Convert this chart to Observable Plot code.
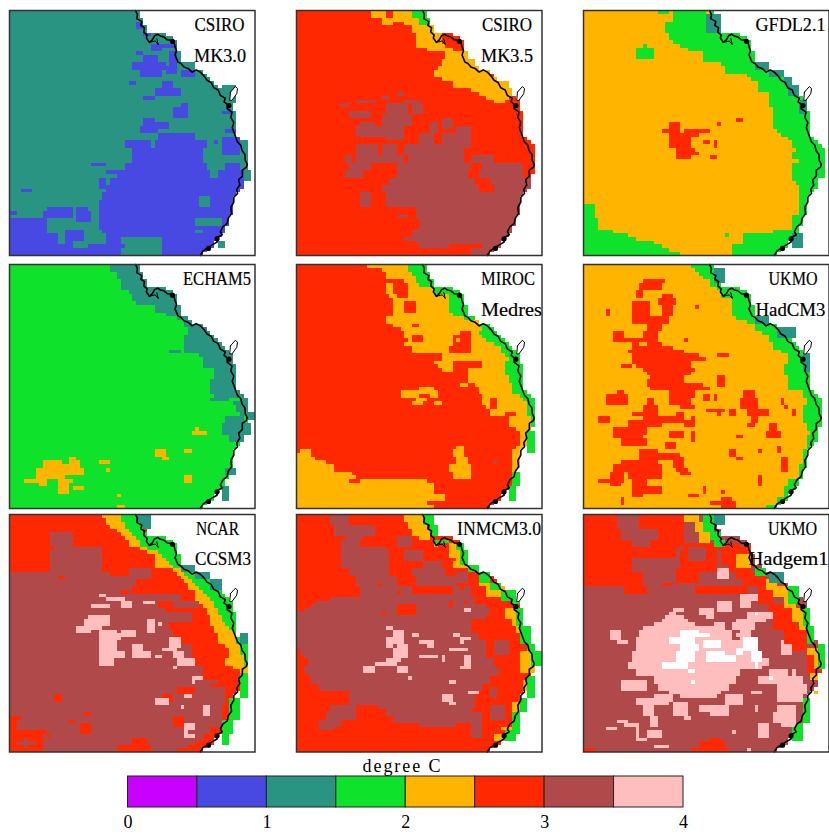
<!DOCTYPE html>
<html><head><meta charset="utf-8">
<script src="https://cdn.jsdelivr.net/npm/d3@7"></script>
<script src="https://cdn.jsdelivr.net/npm/@observablehq/plot@0.6"></script>
<style>
html,body{margin:0;padding:0;background:#fff;overflow:hidden}
#wrap{position:relative;width:829px;height:834px}
#wrap svg{position:absolute;overflow:visible;background:transparent}
</style></head><body><div id="wrap"></div>
<script>
// class codes -> temperature change (degree C), band mid-points
const classCodes = "pbtgormkw";
const classValues = [0.25,0.75,1.25,1.75,2.25,2.75,3.25,3.75,4.25];
const legendLow  = [0,0.5,1,1.5,2,2.5,3,3.5];
const legendHigh = [0.5,1,1.5,2,2.5,3,3.5,4];
const thresholds = [0.5,1,1.5,2,2.5,3,3.5,4];
const palette = ["#c800ff","#4848e2","#2a9482","#0ee22a","#ffb400","#ff2800","#b04a4a","#ffbebe","#ffffff"];
const legendTicks = [0,1,2,3,4];
const N = 66;
// last land column (exclusive) on each grid row
const landEnd = [35,35,36,36,37,37,42,44,45,45,45,46,46,46,48,49,52,53,54,55,56,57,58,59,60,60,60,61,61,61,61,61,61,61,62,63,64,64,64,64,64,64,64,64,63,63,63,63,62,61,60,60,60,60,60,59,59,59,58,58,57,56,55,55,53,52];
// coastline and Fraser Island in grid units
const coastCol = [33.9,34.4,34.2,35.6,35.3,36.3,36.1,37,36.8,37.6,38.4,39,39.8,40.6,41.5,42.4,43.5,44.2,44.5,44.9,44.5,45.3,46.1,46.9,48,49.1,50.2,51.3,52.3,53.1,54.2,54.9,56.1,56.7,58,57.7,58.7,58.5,59.8,59.5,60.3,59.9,60.5,61,61.3,62.2,62.5,63.3,63.4,63.9,63.7,62.6,62.6,61.6,61.9,61.1,61.3,60.3,60.3,59.5,59.7,58.8,58.5,57.4,56.7,57.2,55.8,55.8,54.4,53.1,52,51.3];
const coastRow = [0,1.1,2.2,3,4,4.6,5.8,6.6,7.4,8.6,7.9,6.8,6.4,6.9,7.1,7.9,8,8.5,9.8,10.8,12,13.9,14.3,15.2,15.6,16.6,16,16.6,17.6,18.8,19.4,20.8,21.4,22.9,23.6,24.6,25.4,26.4,27.4,28.8,30.2,31.6,33.2,34.6,35.4,36.3,37.7,38.8,40.4,41.4,42.2,43,44.6,45.6,47,48.2,49.3,50.3,51.6,53,54.7,56,57.4,58.2,59.6,60.4,61.2,62.4,63.2,64.1,64.8,66];
const islandCol = [59.4,60.7,61.3,61.1,59.8,59.2,59.4];
const islandRow = [22,20.5,21,22.4,24.2,24.2,22];
const inletCol = [37.6,39.2,40,39.6];
const inletRow = [8.6,8.2,9.2,7.6];
const blobCol = [43.8,55.8,53.5,59.0];
const blobRow = [8.3,61.5,64.1,25.6];

const line1 = ["CSIRO","CSIRO","GFDL2.1","ECHAM5","MIROC","UKMO","NCAR","INMCM3.0","UKMO"];
const line2 = ["MK3.0","MK3.5","","","Medres","HadCM3","CCSM3","","Hadgem1"];
const line1Center = [210,210.5,207,207.5,211.5,209.5,208,202.5,209];
const line2Center = [210.5,210.5,0,0,215,207,213.5,0,205];
const line1Width = [50,50,70,68,54,49,43,84,49];
const line2Width = [52,52,0,0,61,70,56,0,80];

// Each field: base class, then painted patches "class rows:cols" (a bare start column runs to the coast)
const csiroMk30 = "t0-65:0 b3-4:34-35 b6:36-37 b9-10:38-40 b9:41-44 b11-14:43-44 b11:34-35 b12-13:36-39 b14-15:33-41 b16-17:35-40 b14:41-41 b15-16:42-44 b16-17:46-49 b19:32-33 b19-20:41-43 b21-22:39-45 b23:36-38 b25:46-47 b26-28:44-47 b29-30:36-38 b30-31:39-42 b31-32:35-39 b33-34:40-49 b35-36:31-37 b35-36:39-52 b37-38:33-51 b34-38:57-61 b39-40:33-51 b41-42:31-52 b41-42:58-63 b43-44:29-53 b43-44:56-63 b45-46:27 b47-48:26 b49-50:25 b51-53:24 b54-58:24 b59:25 b60-62:26 b63-65:21 t61-65:30-40 b63:28-30 t50-52:51-53 t56-57:50-56 t59:50-51 b53:10-16 b53:18-20 b54:0-1 b54-55:9-16 b54-56:18-21 b56-62:0-9 b60-62:10-12 b63:0-16 b64-65:0-21 b59-62:15-16 b59-61:17-19 b48:3-5 b41:22-25 b43:26-29 b45-47:24-25 b27:57-59 b32:58-60 b35:55-55 t20-24:57-60 t35-42:62-63 t43-45:63-64 t14-15:46-49 t62-63:56-57";
const csiroMk35 = "r0-65:0 o0-1:20-23 o0-1:26-30 g0-1:31-34 o2:23-25 o2:26-32 g2:33-35 o3:23-25 o3:29-34 g3:33-35 o4-5:31-36 o6-8:32-38 o9:32-39 o10:35-41 o11-12:40-45 o13-14:39-47 o15:38-48 o16-17:37-51 o18:39-53 o19-20:42-56 o21:47-57 o22:49-57 o23:51-56 o24:53-55 m22:27-28 m23:23-24 m24:16-20 m24:29-32 m25:12-13 m25-27:24-29 m25-27:31-33 m27-28:14-19 m28-30:23-30 m30:17-20 m31-33:16-26 m31-34:24-28 m30-32:36-37 m29-31:39-41 m33-35:33-36 m33-35:39-43 m31-36:43-46 m36-38:16-21 m36-38:23-26 m36-38:29-44 m39-40:13-14 m39-40:16-28 m39-40:30-44 m39-40:47-52 m41-42:14-19 m41-42:27-46 m41-42:50-60 m43-44:13-17 m43-44:27-45 m43-44:49-60 m45-46:25-47 m45-46:52 m47-48:23-48 m47-48:53 m49-50:24 m49-52:17-19 m51-52:24 m53-55:32 m55:27-29 m56-58:33 m59-60:31 m61:29-30 m61:31 m62:32 m63:33-40 m63:50 m64-65:47 r64:36-40";
const gfdl21 = "o0-65:0 g0:20-22 g0:24 g1-2:24 g3-5:22 g6-7:23 g8:24 g9:26 g10:28 g11-13:32 g14:37 g15-16:38 g17:44 g18:45 g19-21:47 g22-25:50 g26-31:51 g32:52 g33:53 g34:55 g35-36:56 g37:57 g38-39:56 g40:58 g41-45:56 g46:57 g47-54:58 g55-58:56 g59:51 g60-62:43 g63-65:40 g52-55:0-2 g56-58:0-3 g59:0-7 g60:0-11 g61:0-13 g62:0-18 g63:0-20 g64:0-22 g65:0-25 g10-12:14-18 g9:16-16 g60:38-38 t1-5:33-36 t24-27:58-59 t14-15:46-49 t16-17:50-53 t18-19:54-55 t20-22:55-57 t60-63:56-58 o0:33-33 g37-44:63-64 r30-31:23-25 r32:21-25 r32:27-33 r33:23-30 r34-36:23-28 r37:25-29 r38:25-30 r39:25-28 r29:41-42 r30:36-36 r35:32-33 r35-36:35-35 r39:34-35";
const echam5 = "g0-65:0 t0-1:27 t2-3:29 t4-6:30 t7:32 t8-9:33 t10:34 t11-12:39 t13:42 t14:45 t15-16:47 t17-18:48 t19-23:47 t24:51 t25-27:52 t28-30:55 t31-34:54 t35:55 t36:54-58 t37:60 t38-39:61 t40:62 t41-42:58-62 t43-45:57-64 t46-47:59 t23:43-45 t55-56:58-60 t60-63:57-58 t36-40:62-63 t40-41:64-65 o52:16-17 o53:9-13 o53:16-18 o54:9-18 o55-56:7-19 o57:7-14 o58:4-9 o58:13-16 o59:8-9 o59:13-15 o60:13-15 o60:17-19 o61:13-15 o53:24-26 o55:26-26 o62:29-29 o65:29-30 o50-51:39-41 o52:41-42 o50:47-48 o57-58:47-48 o45:49-52 o44:50-50";
const mirocMedres = "r0-65:0 o0:19 o1:23 o2-3:24 o4:24 r4:24-28 o5-7:24 r5-8:26-29 o8:25 r8:27-29 o9-13:26 r10-12:29-31 o14-15:24 o16:26 o17:28 o18-19:29 o20:30 o21:29 o22-23:31 o24-25:39 o26:37 o27:38 r26-27:42-49 o28:39-41 r28:44-46 o28-31:46 o32:48 o33-34:49 o35:50 o36-37:50 o38:51 o39:52 o40:52 r40:56-58 o40:59 o41-44:57 o45-46:60 o47-48:60 o49:59 o50-54:58 o55-57:58 o32:44-45 r36-38:52-53 r44-46:56-58 g0-1:30 g2:31 g3-4:32 g5:33 g6-7:37 g8-12:41 g13:42 g14:45 g15-16:49 g17:50 g18:49 g19:50 g20:51 g21:53 g22-23:55 g24:56 g25:57 g26-29:56 g30-31:57 g32-34:58 g35:60 g36:61 g37-40:62 g41-44:63 g45-50:62-63 g56-59:58-59 g60-63:57-58 r18:44-46 r19-21:42-46 o20:43-43 r22-23:41-46 r16:31-32 r19-20:31-33 o33:33-36 o34-35:28-37 o36:32-34 o37:31-33 r35:33-35 o37:37-38 o49:43-44 o50-51:42-44 o52-53:43-45 o54-55:41-46 o56-57:42-46 o50:1-3 o51:0-3 o52:0-4 o53:0-7 o54-55:0-9 o56:0-14 o57:0-15 o58:0-34 r58:14-16 o59-60:0-36 o61:0-37 o62-63:0-39 o64:0-34 o65:0-36 r60-61:37-39 m53:53-53";
const ukmoHadcm3 = "o0-65:0 g0:29 g1:30 g2:31 g3:32 g4-5:34 g6:36 g7-8:37 g9-13:40 g14:41 g15:44 g16-17:46 g18:48 g19-20:50 g21-22:51 g23:53 g24-26:55 g27-29:54 g30-33:55 g34-35:59 g36-37:60 g38-42:59 g43-44:60 g45:61 g46-49:60 g50-53:59 g54-57:58 g58-59:55 g60-62:54 g63-64:52 g65:49 r4:16-21 r5-6:15-20 r7-8:14-15 r8:21-23 r9-10:20-24 r11-13:21-23 r10-13:13-17 r14-15:13-22 r16-17:17-20 r18-19:16-19 r20:11-19 r21:13-14 r21:17-20 r18-20:8-10 r22:13-23 r23:12-26 r24:13-30 r25:13-32 r26:13-28 r27:10-12 r27:14-28 r28:16-29 r29:17-28 r30:18-26 r31-32:17-26 r32-33:27-31 r33:18-26 r33:30-33 r34-35:23-29 r36-37:23-28 r38:26-29 r30-32:36-37 r24:36-38 r20:27-27 r11:30-30 r12-13:6-6 r34-35:9-10 r35-37:6-11 r41-42:4-6 r36-37:17-18 r38-41:16-19 r40:13-15 r42-43:12-20 r40:25-26 r41-42:20-26 r44-45:8-16 r46:8-15 r47-48:10-16 r45-46:23-26 r48-49:22-24 r42-43:27-29 r41:29-29 r45-47:29-29 r50:15-19 r51-52:15-25 r53:10-19 r52-54:24-26 r55:25-27 r56:26-28 r54-55:8-20 r56-57:7-10 r56-57:12-20 r58:4-10 r58:13-16 r59:7-9 r59:13-16 r60:13-15 r60-61:16-20 r61-62:13-15 r35-36:32-33 r35-36:35-35 r39:33-37 r40:36-36 r39-40:39-40 r34-35:43-45 r36-38:42-46 r39-40:44-49 r41-42:45-46 r43:44-45 r43-44:50-51 r45-46:49-52 r36-37:53-53 r38:54-54 r39-40:56-56 r46:41-42 r50:47-47 r50-51:39-40 r52:41-42 r49-50:52-52 r52-55:53-54 r57-59:47-47 r60-61:32-32 r62:28-30 r61:37-37 r63-64:10-10 r64:34-40 r63-65:37-39 r65:37-40 t24-28:59-60 t1-4:35-37 t14-15:46-49 t17-19:52-56";
const ncarCcsm3 = "m0-65:0 r0-4:0 r5-8:0-10 r5-8:17 r9:0-11 r9:25 r10-15:0-10 r10-15:25 r16:27 r17:30 r18-19:34 r20-21:33 r22-23:46 r24-25:40 m24-25:44-50 r26:42 r27-29:49 r30-31:43 r32-33:44 r34-35:46 r36-41:49 r42-45:52 r46:56 r47:54 r48-52:58 r48-49:45-49 r50-51:41-43 r53-58:57 r59-60:54 r61-62:52 r63:50 r64:48 r65:45 m15-17:32-37 m17-19:29-33 r21:30-31 r17:13-14 r56:0-2 r57-60:0-1 r60:0-9 r61-65:0-8 m63:2-6 m62-64:4-4 r61:10-10 r62-63:33-36 r64-65:29-37 r57:16-17 r55:20-21 r58-60:19-21 r50-51:12-13 r56-58:44-46 o0:25-29 o1:26-29 o2:26-30 o3:27-30 o4:29-31 o5:30-32 o6:31-33 o7-8:32-34 o9:35-36 o10:37-39 o11:39-40 o12:39-41 o13:39-42 o14:39-43 o15:44-45 o16:45-46 o17:46-47 o18:47-48 o19:48-49 o20:48-50 o21:50-51 o22:50-52 o23:50-53 o24:51-54 o25:52-54 o26-27:53-55 o28-29:54-56 o30:54-57 o31:55-58 o32:55-59 o33-35:56-60 o36:58-61 o37-38:59-61 o39:59-62 o40-41:58-62 o42:60-63 o43:62-63 g0-1:30-33 g2:31-34 g3:31-35 g4:32-35 g5:33 g6:34 g7-8:35 g9:37 g10:40 g11:41 g12:42 g13:43 g14:44 g15:46 g16:47 g17:48 g18:49 g19:50 g20:51 g21:52 g22:53 g23:54 g24-25:55 g26-27:56 g28-29:57 g30:58 g31:59 g32:60 g33-35:61 g36-38:62 g39-41:63 g44-50:62-63 g51-56:59-61 g57-60:57-59 g60-63:57-58 t0-1:34-37 t2:35-37 t3:36-37 t14-15:46-49 t16-17:50-53 t18-20:54-56 t33-35:62-63 k28:21-26 k29-30:20-26 m31:20-22 k31:18-24 k32:18-21 k32:24-28 k33-34:24-29 k35-37:24-28 k38-39:24-30 k40-41:24-27 k22:24-25 k25:22-26 k23:26-30 k24-25:30-32 k24:36-38 k32-33:30-33 k29-32:37-38 k30:40-40 k36-37:33-35 k38-39:33-37 k39:39-40 k34-36:43-45 k37:41-44 k38-39:44-46 k40-41:45-49 k42:44-44 k45:49-51 k46:49-49 k51-52:39-42 k50:47-48 k53:46-46 k53-55:52-53 k58-61:47-49 m60:48-49";
const inmcm30 = "r0-65:0 m0-2:9-13 m3-5:10-20 m6:13-17 m7-8:12-16 m9:12-23 m10-14:12-24 m15-16:14-24 m17-19:16-26 m17-19:32-42 m20-21:17-30 m20-21:42-46 m22:17-46 m23:9-47 m24:5-47 m25:4-50 m26:2-51 m27:0-51 m28:0-50 m29-32:0-46 m33-34:0-48 m35-36:0-50 m37-38:1-50 m39:2-50 m40-41:3-52 m42:2-53 m43:2-54 m44:3-53 m45-46:4-51 m47-48:6-49 m49-52:14-47 m53:22-47 m54-55:24-46 m56-57:26-46 m58:33-42 m53-54:9-15 m55-56:8-15 m57-58:6-11 m59:6-9 m53-56:52-55 m35-38:53-56 m55-61:47-49 m48-50:52-53 m6-8:27-30 m10-12:29-33 m15-16:31-39 m13-14:34-38 m16-18:43-45 r27:23-23 r25-27:27-31 r24-25:41-41 r24:45-45 r21:27-27 r20:14-14 r19:22-22 r19-20:44-44 r20-21:35-41 o0-1:29-33 o2-3:30-34 o4-5:31-35 o6:33-35 o8:37-37 o8:41-42 o9-11:41-43 o12-14:42-45 r12:42-42 o18-19:49-51 o20-22:51-55 o26-28:56-58 o29-30:58-59 o31-32:59-60 o38-40:60-62 o41-43:60-63 o46-48:61-62 o52-55:58-59 o59:55-57 o61-62:53-55 g0-2:34-36 g3-5:36-37 g7:37-40 g8-9:43-44 g10-13:44-45 g14-15:46-48 g16-18:49-51 g19-20:52-54 g21-23:55-58 g24:58-59 g26-30:59-60 g31-35:60-62 g36-37:62-63 g38-41:63-65 g45-50:62-63 g51-54:60-61 g55-60:58-59 g60-62:56-58 k31:24-25 k32-33:26-28 k34-35:24-28 k36:24-25 k36:27-29 k37-39:26-29 k40:24-27 k41:21-26 k42-43:18-20 k42-43:27-29 k45:30-30 k33:31-32 k35:33-34 k35-36:35-36 k39:33-37 k39-40:39-39 k26:45-46 k33:42-43 k34:44-46 k35:44-44 k37:41-44 k37:45-45 k39-42:45-46 k42:44-44 k46:41-42 k50-51:39-41 k52:41-42 k49:46-48";
const ukmoHadgem1 = "m0-65:0 r0-3:0-8 r0-3:15-26 r4-6:0-9 r4-6:20-26 r7-9:0-12 r7-8:18-26 r9-11:12-24 r10-15:0-12 r16-19:0-15 r20-21:11-16 m4-7:27-30 r8-9:27-37 r10-15:26-35 m9-12:28-32 r15-18:25-30 r19:21-23 r20-21:30-43 r8-13:37-41 r9-15:39-44 r16-17:41-46 r17-19:43-48 r20-24:47-50 r25-26:50-55 r27-29:51-56 r30-31:51-56 r31-37:54-59 r38-40:60-62 r41-43:60-63 o0-1:27-30 o2:30-31 o3-4:30-32 o5-7:31-33 o11-14:41-44 o18-20:49-51 o20-22:51-54 o23-25:54-56 o26-29:56-59 o30-31:58-59 o37-38:60-62 o39-42:62-63 o44-45:61-62 o49:62-62 g0-4:32-34 g5-6:34-36 g7-8:35-37 g15-16:46-48 g20-24:55-57 g26-30:59-60 g31-35:60-61 g36-42:63-64 g51-57:59-60 g58-62:56-58 t0-2:35-37 t16-18:50-53 k27:23-24 k28:22-26 k29:21-27 k30:19-29 k30:36-37 k31:16-37 k32-33:15-44 k34:14-45 k35-37:14-46 k38-40:13-47 k41-42:12-47 k43-44:14-41 k45-46:19-40 k47-48:20-38 k49:23-36 k50:26-35 m32-34:40-41 k32-34:7-9 k35:9-11 k46-48:10-16 k50-51:19-23 k51-52:14-22 k53-55:16-18 k56-58:18-19 k52-55:24-27 k56:27-28 k53-54:31-38 k55:34-38 k50-52:38-42 k49:45-47 k53-54:46-46 k58-61:47-49 k53-54:52-56 k55-57:51-56 k58:53-56 k43-44:50-54 k43-44:56-56 k45-46:47-52 k45-46:53-58 k47-49:52-59 k50-51:52-58 k36-38:53-55 k35:53-53 k40-41:46-49 k15-17:36-38 k22-23:42-46 k24-25:42-44 k24-26:36-39 k26-27:31-34 k28:33-34 k26:24-26 k27-28:44-50 k29:41-48 k30-31:40-45 k30-32:35-37 k33:41-44 k59:6-8 k57:9-11 k58:11-14 k59-61:14-14 k62:14-16 k60-61:17-20 k64:19-22 k60:40-40 k65:44-44 r62:34-36 r63-64:31-37 r65:29-38 r65:0-2 w32-33:26-30 w34-35:23-29 w36-37:26-30 w38-40:25-29 w41-42:21-27 w43:28-29 w33:30-33 w35-36:32-36 w38-40:33-37 w39-40:38-40 w37-38:41-42 w34-37:43-46 w38-40:45-47 w40-42:46-46 w46:29-29 w45:50-50 w27:46-46";

const fields = [csiroMk30,csiroMk35,gfdl21,echam5,mirocMedres,ukmoHadcm3,ncarCcsm3,inmcm30,ukmoHadgem1];
const panelLeft = [8.5,295.5,583];
const panelTop = [10,263.5,514];
const panelHeight = [245,244,237.5];
const panelWidth = 245.5;

function decode(spec){
  const g = new Array(N*N).fill(NaN);
  for (const p of spec.split(" ")){
    const m = /^([a-z])(\d+)(?:-(\d+))?:(\d+)(?:-(\d+))?$/.exec(p);
    const v = classValues[classCodes.indexOf(m[1])];
    const r0=+m[2], r1=m[3]===undefined?r0:+m[3], c0=+m[4];
    for (let r=r0;r<=r1;r++){
      const c1 = m[5]===undefined ? landEnd[r]-1 : +m[5];
      for (let c=c0;c<=c1;c++) g[r*N+c]=v;
    }
  }
  return g;
}
function fit(svg,selector){
  svg.querySelectorAll(selector).forEach(t=>{
    const w=t.__data__===undefined?null:null;
  });
}
const colorScale = {type:"threshold",domain:thresholds,range:palette};
const serif = "Liberation Serif";
const wrap = document.getElementById("wrap");
fields.forEach((spec,i)=>{
  const col=i%3,row=Math.floor(i/3),H=panelHeight[row];
  const labels=[
    {t:line1[i],r:4,x:line1Center[i]*N/panelWidth,w:line1Width[i]},
    {t:line2[i],r:12.4,x:line2Center[i]*N/panelWidth,w:line2Width[i]}
  ].filter(d=>d.t);
  const svg=Plot.plot({
    width:panelWidth,height:H,margin:0,
    x:{domain:[0,N],range:[0,panelWidth],axis:null},
    y:{domain:[0,N],range:[0,H],axis:null},
    color:colorScale,
    marks:[
      Plot.raster(decode(spec),{width:N,height:N,x1:0,x2:N,y1:0,y2:N,imageRendering:"pixelated"}),
      Plot.line(coastCol.map((c,k)=>[c,coastRow[k]]),{x:"0",y:"1",stroke:"#000",strokeWidth:1.6}),
      Plot.line(inletCol.map((c,k)=>[c,inletRow[k]]),{x:"0",y:"1",stroke:"#000",strokeWidth:1}),
      Plot.line(islandCol.map((c,k)=>[c,islandRow[k]]),{x:"0",y:"1",stroke:"#000",strokeWidth:1,fill:"#fff"}),
      Plot.dot(blobCol.map((c,k)=>[c,blobRow[k]]),{x:"0",y:"1",r:2.6,fill:"#000"}),
      Plot.text(labels,{x:"x",y:"r",text:"t",fontFamily:serif,fontSize:18.5,fill:"#000",stroke:"#000",strokeWidth:0.2,
        render(index,scales,values,dims,ctx,next){
          const g=next(index,scales,values,dims,ctx);
          g.querySelectorAll("text").forEach((el,k)=>{
            el.setAttribute("textLength",labels[index[k]].w);
            el.setAttribute("lengthAdjust","spacingAndGlyphs");
          });
          return g;
        }}),
      Plot.frame({stroke:"#333",strokeWidth:1.5})
    ]
  });
  svg.style.left=panelLeft[col]+"px";svg.style.top=panelTop[row]+"px";
  wrap.appendChild(svg);
});
const bar=Plot.plot({
  width:829,height:74,marginLeft:127.5,marginRight:146,marginTop:16,marginBottom:27,
  x:{domain:[0,4],axis:null},y:{domain:[0,1],axis:null},color:colorScale,
  marks:[
    Plot.rect(legendLow.map((l,k)=>({l,h:legendHigh[k]})),{x1:"l",x2:"h",y1:0,y2:1,fill:d=>(d.l+d.h)/2,stroke:"#222",strokeWidth:1}),
    Plot.axisX({ticks:legendTicks,tickSize:0,tickPadding:8,anchor:"bottom",fontFamily:serif,fontSize:18,tickFormat:d=>d,stroke:"none"}),
    Plot.text(["degree C"],{x:()=>1.97,y:()=>1,dy:-10,text:d=>d,fontFamily:serif,fontSize:18,fill:"#000",
      render(index,scales,values,dims,ctx,next){
        const g=next(index,scales,values,dims,ctx);
        g.querySelectorAll("text").forEach(el=>el.setAttribute("textLength",78));
        return g;
      }})
  ]
});
bar.style.left="0px";bar.style.top="760px";
wrap.appendChild(bar);
</script></body></html>
